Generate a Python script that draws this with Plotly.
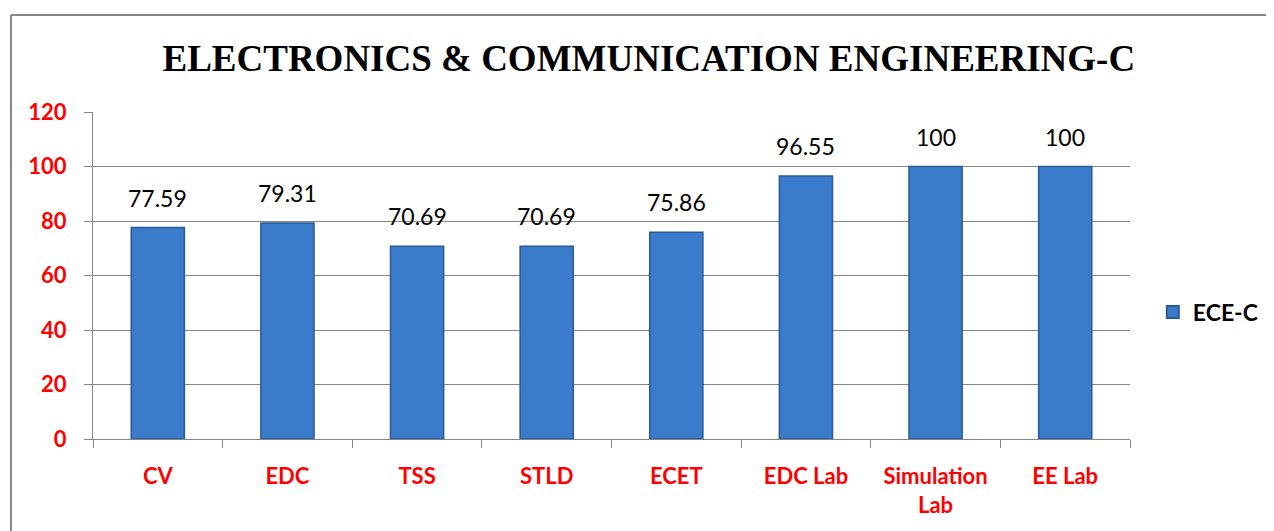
import plotly.graph_objects as go

subjects = ["CV", "EDC", "TSS", "STLD", "ECET", "EDC Lab", "Simulation<br>Lab", "EE Lab"]
pass_pct = [77.59, 79.31, 70.69, 70.69, 75.86, 96.55, 100, 100]
value_labels = ["77.59", "79.31", "70.69", "70.69", "75.86", "96.55", "100", "100"]
y_ticks = [0, 20, 40, 60, 80, 100, 120]

fig = go.Figure()
fig.add_trace(
    go.Bar(
        x=subjects,
        y=pass_pct,
        name="ECE-C",
        marker=dict(
            color="#3b7bcb",
            line=dict(color="#2a5a98", width=1.5),
        ),
        width=0.41,
    )
)

# value labels above each bar
for cat, val, lab in zip(subjects, pass_pct, value_labels):
    fig.add_annotation(
        x=cat,
        y=val,
        text=lab,
        showarrow=False,
        yanchor="bottom",
        yshift=14,
        font=dict(family="Lato, Open Sans, sans-serif", size=23, color="black"),
    )

grey = "#868686"
# outer chart border (left and top only visible)
fig.add_shape(type="line", xref="paper", yref="paper",
              x0=-0.0791, y0=-0.5, x1=-0.0791, y1=1.2966,
              line=dict(color=grey, width=2))
fig.add_shape(type="line", xref="paper", yref="paper",
              x0=-0.0791, y0=1.2966, x1=1.2, y1=1.2966,
              line=dict(color=grey, width=2))

fig.update_layout(
    width=1274,
    height=531,
    margin=dict(l=85, r=152, t=104, b=100, autoexpand=False),
    paper_bgcolor="white",
    plot_bgcolor="white",
    title=dict(
        text="<b>ELECTRONICS &amp; COMMUNICATION ENGINEERING-C</b>",
        x=0.503,
        xanchor="center",
        y=0.905,
        yanchor="middle",
        font=dict(family="Liberation Serif, Times New Roman, serif", size=37, color="black"),
    ),
    showlegend=True,
    legend=dict(
        x=1.022,
        y=0.388,
        xanchor="left",
        yanchor="middle",
        font=dict(family="Lato, Open Sans, sans-serif", size=23, color="black", weight="bold"),
        itemsizing="constant",
    ),
    yaxis=dict(
        range=[0, 120],
        tickvals=y_ticks,
        showgrid=True,
        gridcolor=grey,
        gridwidth=1,
        showline=True,
        linecolor=grey,
        linewidth=1,
        ticks="outside",
        ticklen=8,
        tickcolor=grey,
        zeroline=False,
        ticklabelstandoff=13,
        tickfont=dict(family="Lato, Open Sans, sans-serif", size=22, color="red", weight="bold"),
    ),
    xaxis=dict(
        showline=True,
        linecolor=grey,
        linewidth=1,
        ticks="outside",
        tickson="boundaries",
        ticklen=8,
        tickcolor=grey,
        ticklabelstandoff=18,
        tickfont=dict(family="Lato, Open Sans, sans-serif", size=22, color="red", weight="bold"),
    ),
)

fig.write_html("out.html")
